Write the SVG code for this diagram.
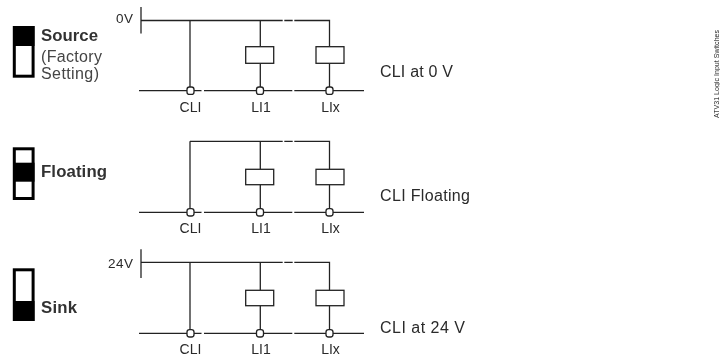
<svg xmlns="http://www.w3.org/2000/svg" width="720" height="356" viewBox="0 0 720 356">
<defs>
<filter id="soft" x="-5%" y="-5%" width="110%" height="110%"><feGaussianBlur stdDeviation="0.35"/></filter>
<style>
text{font-family:"Liberation Sans",Arial,sans-serif;fill:#2a2a2a}
.w{fill:none;stroke:#222;stroke-width:1.3}
.t{font-size:16px}
.b{font-size:16.8px;font-weight:bold;fill:#333}
.n{font-size:16px;fill:#444}
.s{font-size:13.500px}
.l{font-size:14px;text-anchor:middle}
.term{fill:#fff;stroke:#222;stroke-width:1.3}
.coil{fill:#fff;stroke:#222;stroke-width:1.3}
.sw{fill:#fff;stroke:#000;stroke-width:3}
</style>
</defs>
<rect width="720" height="356" fill="#fff"/>
<g filter="url(#soft)">
<g id="connectors">
<g class="w">
<path d="M141 7V33.500M141 20.500H282.700M284.300 20.500H292.700M294.300 20.500H329.500V46.500M190 20.500V87M260.300 20.500V46.500M260.300 63.500V87M329.500 63.500V87M139 90.700H201.500M204 90.700H292.300M294.300 90.700H364"/>
<path d="M190 141.300V208M190 141.300H282.700M284.300 141.300H292.700M294.300 141.300H329.500V169.300M260.300 141.300V169.300M260.300 184.700V208M329.500 184.700V208M139 212.300H201.500M204 212.300H292.300M294.300 212.300H364"/>
<path d="M141 249.300V278M141 262.300H282.700M284.300 262.300H292.700M294.300 262.300H329.500V290.300M190 262.300V329M260.300 262.300V290.300M260.300 305.700V329M329.500 305.700V329M139 333.300H201.500M204 333.300H292.300M294.300 333.300H364"/>
</g>
</g>
<g id="source-switch">
<rect class="sw" x="14.300" y="27.500" width="18.800" height="48.700"/>
<rect x="13" y="26" width="21.500" height="20" fill="#000"/>
<text class="b" x="41" y="41" textLength="57">Source</text>
<text class="n" x="41" y="62" textLength="61">(Factory</text>
<text class="n" x="41" y="79" textLength="58">Setting)</text>
</g>
<g id="floating-switch">
<rect class="sw" x="14.300" y="148.800" width="18.800" height="49.700"/>
<rect x="13" y="162.700" width="21.500" height="19" fill="#000"/>
<text class="b" x="41" y="177" textLength="66">Floating</text>
</g>
<g id="sink-switch">
<rect class="sw" x="14.300" y="269.800" width="18.800" height="49.700"/>
<rect x="13" y="301" width="21.500" height="20" fill="#000"/>
<text class="b" x="41" y="313" textLength="36">Sink</text>
</g>
<g id="row1">
<text class="s" x="116" y="22.500" textLength="17">0V</text>
<rect class="coil" x="245.700" y="46.700" width="28" height="16.600"/>
<rect class="coil" x="316" y="46.700" width="28" height="16.600"/>
<rect class="term" x="187" y="87" width="7" height="7.400" rx="2.500"/>
<rect class="term" x="256.500" y="87" width="7" height="7.400" rx="2.500"/>
<rect class="term" x="326" y="87" width="7" height="7.400" rx="2.500"/>
<text class="l" x="190.500" y="112">CLI</text>
<text class="l" x="261" y="112">LI1</text>
<text class="l" x="330.500" y="112">LIx</text>
<text class="t" x="380" y="77" textLength="73">CLI at 0 V</text>
</g>
<g id="row2">
<rect class="coil" x="245.700" y="169.300" width="28" height="15.400"/>
<rect class="coil" x="316" y="169.300" width="28" height="15.400"/>
<rect class="term" x="187" y="208.600" width="7" height="7.400" rx="2.500"/>
<rect class="term" x="256.500" y="208.600" width="7" height="7.400" rx="2.500"/>
<rect class="term" x="326" y="208.600" width="7" height="7.400" rx="2.500"/>
<text class="l" x="190.500" y="233">CLI</text>
<text class="l" x="261" y="233">LI1</text>
<text class="l" x="330.500" y="233">LIx</text>
<text class="t" x="380" y="201" textLength="90">CLI Floating</text>
</g>
<g id="row3">
<text class="s" x="108" y="268" textLength="25">24V</text>
<rect class="coil" x="245.700" y="290.300" width="28" height="15.400"/>
<rect class="coil" x="316" y="290.300" width="28" height="15.400"/>
<rect class="term" x="187" y="329.600" width="7" height="7.400" rx="2.500"/>
<rect class="term" x="256.500" y="329.600" width="7" height="7.400" rx="2.500"/>
<rect class="term" x="326" y="329.600" width="7" height="7.400" rx="2.500"/>
<text class="l" x="190.500" y="354">CLI</text>
<text class="l" x="261" y="354">LI1</text>
<text class="l" x="330.500" y="354">LIx</text>
<text class="t" x="380" y="333.300" textLength="85">CLI at 24 V</text>
</g>
<text x="719" y="118" font-size="7" transform="rotate(-90 719 118)" textLength="88">ATV31 Logic Input Switches</text>
</g>
</svg>
